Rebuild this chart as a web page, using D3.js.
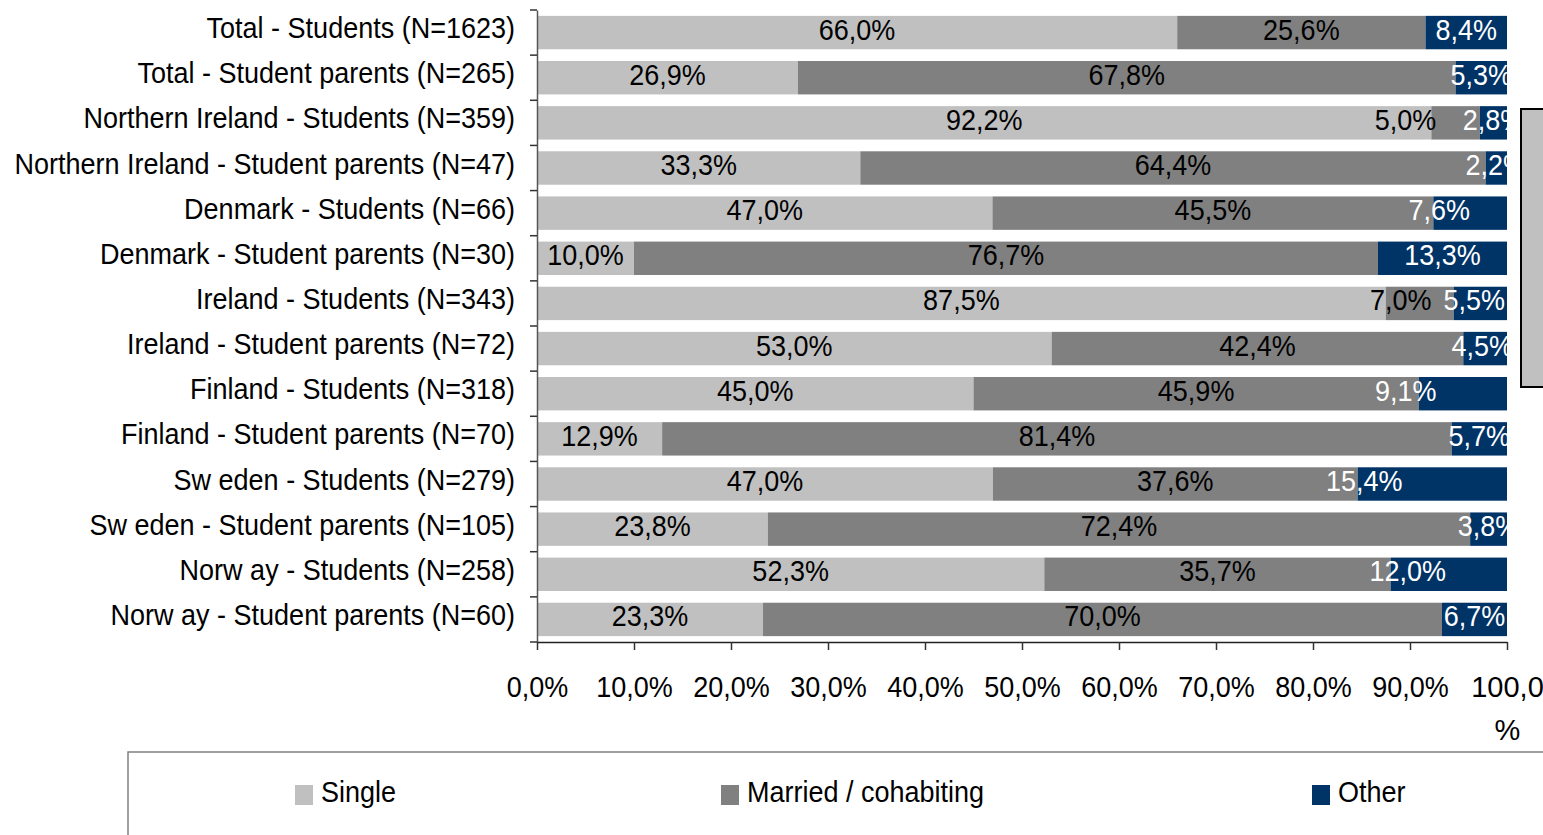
<!DOCTYPE html>
<html>
<head>
<meta charset="utf-8">
<script src="https://cdn.jsdelivr.net/npm/d3@7"></script>
<style>
  html, body { margin: 0; padding: 0; background: #fff; }
  svg { display: block; }
  svg text { font-family: "Liberation Sans", Arial, sans-serif; }
</style>
</head>
<body>
<svg id="chart" width="1543" height="835"></svg>
<script>
// Marital status of students and student parents, by country (percent of respondents)
const categories = [
  "Total - Students (N=1623)",
  "Total - Student parents (N=265)",
  "Northern Ireland - Students (N=359)",
  "Northern Ireland - Student parents (N=47)",
  "Denmark - Students (N=66)",
  "Denmark - Student parents (N=30)",
  "Ireland - Students (N=343)",
  "Ireland - Student parents (N=72)",
  "Finland - Students (N=318)",
  "Finland - Student parents (N=70)",
  "Sw eden - Students (N=279)",
  "Sw eden - Student parents (N=105)",
  "Norw ay - Students (N=258)",
  "Norw ay - Student parents (N=60)"
];
const seriesNames = ["Single", "Married / cohabiting", "Other"];
const single  = [66.0, 26.9, 92.2, 33.3, 47.0, 10.0, 87.5, 53.0, 45.0, 12.9, 47.0, 23.8, 52.3, 23.3];
const married = [25.6, 67.8,  5.0, 64.4, 45.5, 76.7,  7.0, 42.4, 45.9, 81.4, 37.6, 72.4, 35.7, 70.0];
const other   = [ 8.4,  5.3,  2.8,  2.2,  7.6, 13.3,  5.5,  4.5,  9.1,  5.7, 15.4,  3.8, 12.0,  6.7];
const xTicks  = [0, 0.1, 0.2, 0.3, 0.4, 0.5, 0.6, 0.7, 0.8, 0.9, 1.0];

const colors = ["#C0C0C0", "#808080", "#003366"];
const labelColors = ["#000", "#000", "#fff"];
// hand-placed label shifts (px) where neighbouring labels would collide
const labelShift = { "2|1": -50, "4|2": -31, "6|1": -19, "6|2": -6, "7|2": -3, "8|2": -57, "10|2": -68, "12|2": -41 };

const rows = categories.map((c, i) => ({ cat: c, i, s0: single[i], s1: married[i], s2: other[i] }));
const stacked = d3.stack().keys(["s0", "s1", "s2"]).offset(d3.stackOffsetExpand)(rows);

const svg = d3.select("#chart");
const plot = { left: 537, right: 1507, top: 10, bottom: 642 };
const fontSize = 27;      // width-defining size
const tallSize = 29;      // glyph height used for drawing (condensed lettering)
const FONT = "Liberation Sans, Arial, sans-serif";

// condensed lettering: keep the width of the 27px text but draw taller glyphs
function condense(sel) {
  sel.each(function () {
    const w = this.getComputedTextLength();
    d3.select(this).attr("font-size", tallSize)
      .attr("textLength", w).attr("lengthAdjust", "spacingAndGlyphs");
  });
}

const x = d3.scaleLinear().domain([0, 1]).range([plot.left, plot.right]);
const y = d3.scaleBand().domain(categories).range([plot.top, plot.bottom]).paddingInner(0.26).paddingOuter(0.13);

const loc = d3.formatLocale({ decimal: ",", thousands: ".", grouping: [3], currency: ["", "€"], percent: "%" });
const fmtPct = loc.format(".1f");

svg.append("defs").append("clipPath").attr("id", "plotClip")
  .append("rect").attr("x", plot.left).attr("y", 0).attr("width", plot.right - plot.left + 1).attr("height", plot.bottom);

// bars
const layers = svg.append("g").selectAll("g").data(stacked).join("g")
  .attr("fill", (d, k) => colors[k]);
layers.selectAll("rect").data(d => d).join("rect")
  .attr("x", d => x(d[0]))
  .attr("y", d => y(d.data.cat))
  .attr("width", d => x(d[1]) - x(d[0]))
  .attr("height", y.bandwidth());

// value labels
const labelG = svg.append("g").attr("clip-path", "url(#plotClip)")
  .attr("font-family", FONT).attr("font-size", fontSize).attr("text-anchor", "middle");
stacked.forEach((layer, k) => {
  const vals = [single, married, other][k];
  labelG.append("g").attr("fill", labelColors[k]).selectAll("text").data(layer).join("text")
    .attr("font-size", fontSize)
    .attr("x", d => (x(d[0]) + x(d[1])) / 2 + (labelShift[d.data.i + "|" + k] || 0))
    .attr("y", d => y(d.data.cat) + y.bandwidth() / 2 + 7)
    .text(d => fmtPct(vals[d.data.i]) + "%");
});
condense(labelG.selectAll("text"));

// category axis
const yAxis = svg.append("g").attr("transform", `translate(${plot.left},0)`)
  .call(d3.axisLeft(y).tickSize(0).tickPadding(22).tickSizeOuter(0))
  .attr("font-family", FONT).attr("font-size", fontSize);
yAxis.select(".domain").attr("stroke", "#555").attr("stroke-width", 1.5);
yAxis.selectAll("text").attr("fill", "#000").attr("font-size", fontSize).attr("dy", "5.5");
condense(yAxis.selectAll("text"));
// tick marks sit on the category boundaries
const bounds = d3.range(categories.length + 1).map(i => plot.top + i * y.step());
yAxis.selectAll("line.bound").data(bounds).join("line").attr("class", "bound")
  .attr("x1", -7).attr("x2", 0).attr("y1", d => d).attr("y2", d => d)
  .attr("stroke", "#333").attr("stroke-width", 1.5);

// value axis
const xAxis = svg.append("g").attr("transform", `translate(0,${plot.bottom})`)
  .call(d3.axisBottom(x).tickValues(xTicks).tickSize(8).tickSizeOuter(0).tickFormat(d => fmtPct(d * 100) + "%"))
  .attr("font-family", FONT).attr("font-size", fontSize);
xAxis.select(".domain").attr("stroke", "#222").attr("stroke-width", 1.5);
xAxis.selectAll(".tick line").attr("stroke", "#333").attr("stroke-width", 1.5);
xAxis.selectAll("text").attr("fill", "#000").attr("font-size", fontSize).attr("y", 55).attr("dy", 0);
// the last label wraps onto a second line
xAxis.selectAll(".tick text").filter(d => d === 1).each(function (d) {
  const t = d3.select(this);
  const full = fmtPct(d * 100);
  t.text(null);
  t.append("tspan").attr("x", 0).attr("y", 55).text(full);
  t.append("tspan").attr("x", 0).attr("y", 98).text("%");
});
condense(xAxis.selectAll(".tick text").filter(d => d !== 1));
xAxis.selectAll(".tick text").filter(d => d === 1).attr("font-size", tallSize)
  .selectAll("tspan").attr("transform", null);

// legend
svg.append("rect").attr("x", 128).attr("y", 752).attr("width", 1500).attr("height", 200)
  .attr("fill", "none").attr("stroke", "#808080").attr("stroke-width", 1.5);
const legendX = [295, 721, 1312];
const legend = svg.append("g").attr("font-family", FONT).attr("font-size", fontSize)
  .selectAll("g").data(seriesNames).join("g")
  .attr("transform", (d, k) => `translate(${legendX[k]},785)`);
legend.append("rect").attr("width", 18).attr("height", 20).attr("fill", (d, k) => colors[k]);
legend.append("text").attr("x", 26).attr("y", 17).attr("fill", "#000").attr("font-size", fontSize).text(d => d);
condense(legend.selectAll("text"));

// neighbouring panel edge
svg.append("rect").attr("x", 1521).attr("y", 109).attr("width", 40).attr("height", 278)
  .attr("fill", "#C0C0C0").attr("stroke", "#000").attr("stroke-width", 2);
</script>
</body>
</html>
